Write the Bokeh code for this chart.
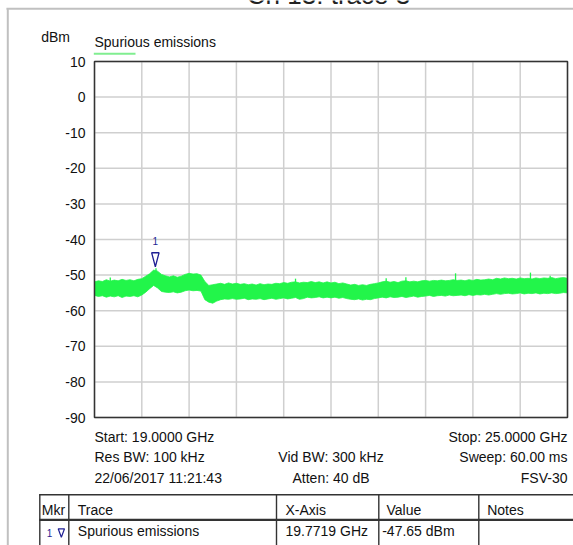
import numpy as np
from bokeh.plotting import figure
from bokeh.models import Range1d
from bokeh.core.properties import value
from bokeh.embed import file_html
from bokeh.resources import INLINE

# ---------------- data ----------------
freq_start_ghz = 19.0
freq_stop_ghz = 25.0
freq = np.linspace(freq_start_ghz, freq_stop_ghz, 121)  # sweep points, 0.05 GHz apart

trace_upper = [
    -51.9, -51.6, -51.8, -51.3, -51.7, -51.4, -51.6, -51.2, -51.5, -51.3,
    -51.6, -51.2, -51.0, -50.3, -49.6, -48.6, -48.9, -49.8, -50.2, -50.5,
    -50.2, -50.6, -50.3, -49.8, -49.5, -49.7, -49.6, -50.0, -51.8, -52.9,
    -52.7, -52.5, -52.3, -52.6, -52.2, -52.5, -52.3, -52.6, -52.4, -52.7,
    -52.5, -52.8, -52.4, -52.7, -52.5, -52.6, -52.3, -52.4, -52.1, -52.3,
    -52.0, -51.9, -52.2, -52.0, -52.1, -51.8, -52.1, -51.9, -52.2, -51.9,
    -52.2, -52.0, -52.4, -52.2, -52.5, -52.8, -52.6, -52.9, -52.7, -52.9,
    -52.6, -52.4, -52.2, -51.9, -51.7, -52.0, -51.8, -52.1, -51.7, -51.6,
    -51.9, -51.7, -51.9, -51.6, -51.5, -51.7, -51.5, -51.6, -51.4, -51.6,
    -51.5, -51.3, -51.5, -51.4, -51.6, -51.3, -51.5, -51.2, -51.4, -51.3,
    -51.1, -51.3, -50.9, -51.1, -50.8, -51.0, -50.9, -51.1, -50.8, -51.0,
    -50.9, -51.1, -50.8, -51.0, -50.8, -50.9, -50.7, -51.0, -50.8, -50.7,
    -50.9,
]
trace_lower = [
    -55.7, -56.0, -55.8, -56.2, -55.9, -56.1, -55.8, -56.3, -55.9, -56.0,
    -55.8, -56.1, -55.6, -54.8, -53.8, -52.9, -53.6, -54.6, -54.8, -54.9,
    -54.7, -55.0, -54.8, -54.4, -54.2, -54.4, -54.3, -54.5, -56.9, -57.6,
    -57.9, -57.3, -56.9, -56.7, -56.8, -56.6, -56.8, -56.7, -56.5, -56.9,
    -56.7, -56.8, -56.6, -56.9, -56.7, -56.5, -56.8, -56.6, -56.4, -56.7,
    -56.5, -56.3, -56.8, -56.6, -56.2, -56.4, -56.3, -56.1, -56.4, -56.2,
    -56.4, -56.2, -56.5, -56.3, -56.6, -56.8, -56.9, -56.7, -57.0, -56.8,
    -56.9, -56.6, -56.4, -56.2, -56.4, -56.1, -56.3, -56.2, -56.0, -56.3,
    -56.1, -55.9, -56.2, -56.0, -55.9, -55.7, -56.0, -55.8, -55.7, -55.9,
    -55.6, -55.8, -55.7, -55.6, -55.8, -55.5, -55.7, -55.5, -55.6, -55.4,
    -55.6, -55.4, -55.2, -55.4, -55.2, -55.1, -55.3, -55.2, -55.0, -55.3,
    -55.1, -55.2, -55.0, -55.3, -55.1, -55.2, -55.0, -55.2, -55.1, -54.9,
    -55.0,
]
spike_freq = [19.20, 19.78, 21.55, 22.70, 22.95, 23.58, 24.53, 24.78]
spike_level = [-50.7, -48.1, -51.0, -50.9, -50.6, -49.5, -49.3, -50.2]

marker_freq = 19.7719
marker_level = -47.65

y_ticks = [10, 0, -10, -20, -30, -40, -50, -60, -70, -80, -90]
y_tick_labels = ["10", "0", "-10", "-20", "-30", "-40", "-50", "-60", "-70", "-80", "-90"]
x_grid_ticks = [19.0, 19.6, 20.2, 20.8, 21.4, 22.0, 22.6, 23.2, 23.8, 24.4, 25.0]

page_title = "Ch 13: trace 3"
unit_label = "dBm"
trace_name = "Spurious emissions"
info_left = ["Start: 19.0000 GHz", "Res BW: 100 kHz", "22/06/2017 11:21:43"]
info_mid = ["", "Vid BW: 300 kHz", "Atten: 40 dB"]
info_right = ["Stop: 25.0000 GHz", "Sweep: 60.00 ms", "FSV-30"]

table_header = ["Mkr", "Trace", "X-Axis", "Value", "Notes"]
table_row = ["1", "Spurious emissions", "19.7719 GHz", "-47.65 dBm", ""]

# ---------------- layout (canvas pixels) ----------------
W, H = 573, 545
PL, PR, PT, PB = 94, 567, 61, 417          # diagram frame
FONT = "Liberation Sans"
TRACE = "#22F54A"
MARK = "#1f1f94"
INK = "#111111"
RULE = "#333333"
GRID = "#cfcfcf"
BASE_SHIFT = 0.36   # renderer places the alphabetic baseline this many em too low

y_top, y_bot = max(y_ticks), min(y_ticks)
kx = (PR - PL) / (freq_stop_ghz - freq_start_ghz)   # px per GHz
ky = (PB - PT) / (y_top - y_bot)                     # px per dB

p = figure(width=W, height=H, output_backend="svg", toolbar_location=None,
           x_range=Range1d(freq_start_ghz - PL / kx, freq_stop_ghz + (W - PR) / kx),
           y_range=Range1d(y_bot - (H - PB) / ky, y_top + PT / ky),
           min_border=0, background_fill_color="white", border_fill_color="white")
p.extra_x_ranges = {"px": Range1d(0, W)}
p.extra_y_ranges = {"px": Range1d(H, 0)}
p.axis.visible = False
p.grid.visible = False
p.outline_line_color = None

PX = dict(x_range_name="px", y_range_name="px")


def txt(x, y, t, align="left", size=14, color=INK):
    p.text(x=[x], y=[y - BASE_SHIFT * size], text=[t], text_align=align,
           text_baseline="alphabetic", text_font=value(FONT),
           text_font_size=f"{size}px", text_color=color, **PX)


# ---- page decoration ----
p.segment(x0=[7.3, 6], y0=[7.5, 8.3], x1=[7.3, W], y1=[H, 8.3],
          line_color="#c0c0c0", line_width=2, **PX)
txt(328, 4, page_title, align="center", size=26, color="#222222")

# ---- header ----
txt(40.7, 41.7, unit_label)
txt(94, 46.5, trace_name)
p.segment(x0=[93.3], y0=[53.3], x1=[135], y1=[53.3], line_color="#80ee90", line_width=2, **PX)

# ---- diagram grid ----
n_x = len(x_grid_ticks)
n_y = len(y_ticks)
p.segment(x0=x_grid_ticks, y0=[y_bot] * n_x, x1=x_grid_ticks, y1=[y_top] * n_x,
          line_color=GRID, line_width=1.5)
p.segment(x0=[freq_start_ghz] * n_y, y0=y_ticks, x1=[freq_stop_ghz] * n_y, y1=y_ticks,
          line_color=GRID, line_width=1.5)
p.text(x=[freq_start_ghz] * n_y, y=y_ticks, text=y_tick_labels, x_offset=-9,
       text_align="right", text_baseline="middle",
       text_font=value(FONT), text_font_size="14px", text_color=INK)

# ---- trace ----
p.varea(x=freq, y1=trace_lower, y2=trace_upper, fill_color=TRACE, fill_alpha=1)
p.line(x=freq, y=trace_upper, line_color=TRACE, line_width=0.8)
p.line(x=freq, y=trace_lower, line_color=TRACE, line_width=0.8)
spike_base = np.interp(spike_freq, freq, trace_upper) - 0.5
p.segment(x0=spike_freq, y0=spike_base, x1=spike_freq, y1=spike_level,
          line_color=TRACE, line_width=1.3)

# ---- marker ----
hw = 3.7 / kx
hh = 14.0 / ky
p.patch(x=[marker_freq - hw, marker_freq + hw, marker_freq],
        y=[marker_level + hh, marker_level + hh, marker_level],
        fill_color=None, line_color=MARK, line_width=1.3)
p.text(x=[marker_freq], y=[marker_level], text=["1"], y_offset=-26,
       text_align="center", text_baseline="alphabetic",
       text_font=value(FONT), text_font_size="10px", text_color=MARK)

# ---- frame ----
p.quad(left=[freq_start_ghz], right=[freq_stop_ghz], bottom=[y_bot], top=[y_top],
       fill_color=None, line_color=RULE, line_width=1.5)

# ---- settings block ----
rows_y = [441.5, 462, 482.5]
for yy, a, b, c in zip(rows_y, info_left, info_mid, info_right):
    txt(PL, yy, a)
    if b:
        txt(330.5, yy, b, align="center")
    txt(PR, yy, c, align="right")

# ---- marker table ----
col_x = [39.3, 68.3, 276, 378.3, 478.3]
tab_top, tab_sep = 494.3, 519.3
p.segment(x0=[col_x[0] - 0.7, col_x[0] - 0.7], y0=[tab_top, tab_sep],
          x1=[W, W], y1=[tab_top, tab_sep], line_color=RULE, line_width=[1.4, 2.2], **PX)
p.segment(x0=col_x, y0=[tab_top] * len(col_x), x1=col_x, y1=[H] * len(col_x),
          line_color=RULE, line_width=1.4, **PX)
head_x = [41.3, 77.3, 285, 386, 486.7]
for hx, t in zip(head_x, table_header):
    txt(hx, 514.3, t)
txt(46.3, 536, table_row[0], size=10, color=MARK)
p.patch(x=[57.7, 64.0, 60.85], y=[528.3, 528.3, 536.7],
        fill_color=None, line_color=MARK, line_width=1.2, **PX)
txt(77.3, 536, table_row[1])
txt(285, 536, table_row[2])
txt(381.7, 536, table_row[3])

open("out.html", "w").write(file_html(p, INLINE))
